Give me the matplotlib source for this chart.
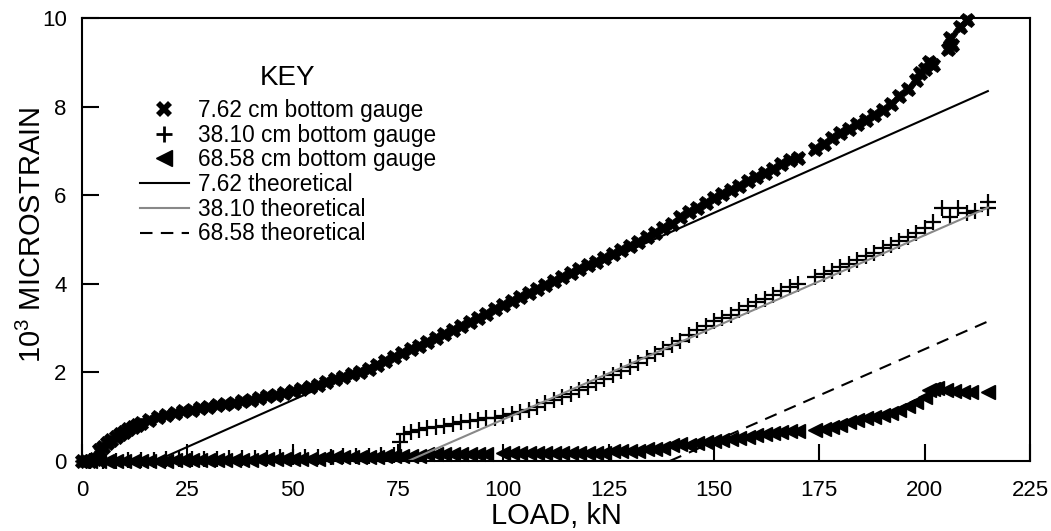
import matplotlib
matplotlib.use('Agg')
import matplotlib.pyplot as plt
from matplotlib.lines import Line2D

plt.rcParams['font.family'] = ['Liberation Sans', 'DejaVu Sans']
plt.rcParams['mathtext.fontset'] = 'custom'
plt.rcParams['mathtext.rm'] = 'Liberation Sans'

# 7.62 cm bottom gauge (X markers)
g1_x = [0, 1, 2, 3, 4, 5, 6, 7, 8, 9, 10, 11, 12, 13, 14,
        16, 18, 20, 22, 24, 26, 28, 30, 32, 34, 36, 38, 40, 42, 44, 46, 48, 50,
        52, 54, 56, 58, 60,
        62, 64, 66, 68, 70, 72, 74, 76, 78, 80, 82, 84, 86, 88, 90, 92, 94, 96,
        98, 100, 102, 104, 106, 108, 110, 112, 114, 116, 118, 120, 122, 124, 126,
        128, 130, 132, 134, 136, 138, 140, 142, 144, 146, 148, 150, 152, 154, 156,
        158, 160, 162, 164, 166, 168, 170,
        174, 176, 178, 180, 182, 184, 186, 188, 190, 192, 194, 196, 198,
        199, 200, 201, 202, 205.5, 206, 206.5, 208.5, 210]
g1_y = [0, 0, 0, 0.05, 0.25, 0.32, 0.4, 0.47, 0.54, 0.6, 0.66, 0.72, 0.77, 0.82, 0.86,
        0.93, 0.99, 1.04, 1.08, 1.12, 1.16, 1.2, 1.23, 1.26, 1.29, 1.32, 1.35, 1.38,
        1.42, 1.46, 1.5, 1.54, 1.58, 1.62, 1.67, 1.72, 1.78, 1.84,
        1.9, 1.96, 2.02, 2.08, 2.16, 2.25, 2.34, 2.43, 2.52, 2.6, 2.68, 2.77, 2.86,
        2.96, 3.05, 3.14, 3.23, 3.32, 3.42, 3.52, 3.61, 3.7, 3.79, 3.88, 3.97,
        4.06, 4.15, 4.24, 4.33, 4.42, 4.5, 4.59, 4.67, 4.76, 4.85, 4.95, 5.05,
        5.15, 5.25, 5.35, 5.5, 5.62, 5.72, 5.82, 5.93, 6.03, 6.12, 6.2, 6.33, 6.42,
        6.5, 6.6, 6.7, 6.8, 6.85,
        7.05, 7.15, 7.3, 7.4, 7.5, 7.6, 7.7, 7.8, 7.92, 8.05, 8.25, 8.4, 8.6,
        8.75, 8.85, 9.0, 8.95, 9.3, 9.55, 9.4, 9.8, 9.95]

# 38.10 cm bottom gauge (+ markers)
g2_x = [2, 5, 8, 11, 14, 17, 20, 23, 26, 29, 32, 35, 38, 41, 44, 47, 50, 53, 56,
        59, 62, 65, 68, 71, 74,
        75.5, 76.5,
        78, 80, 82, 84, 86, 88, 90, 92, 94, 96, 98, 100, 102, 104, 106, 108, 110,
        112, 114, 116, 118, 120, 122, 124, 126, 128, 130, 132, 134, 136, 138, 140,
        142, 144, 146, 148, 150, 152, 154, 156, 158, 160, 162, 164, 166, 168, 170,
        174, 176, 178, 180, 182, 184, 186, 188, 190, 192, 194, 196, 198, 200, 202,
        204, 206, 208, 210, 212,
        215, 215]
g2_y = [0, 0, 0.01, 0.02, 0.03, 0.03, 0.04, 0.04, 0.05, 0.05, 0.05, 0.06, 0.06,
        0.07, 0.07, 0.08, 0.08, 0.09, 0.1, 0.1, 0.11, 0.12, 0.12, 0.13, 0.14,
        0.43, 0.62,
        0.66, 0.7, 0.74, 0.76, 0.8, 0.84, 0.87, 0.9, 0.93, 0.96, 0.98, 1.02, 1.06,
        1.1, 1.15, 1.22, 1.3, 1.37, 1.44, 1.52, 1.6, 1.68, 1.76, 1.85, 1.94, 2.03,
        2.12, 2.22, 2.32, 2.42, 2.52, 2.62, 2.72, 2.85, 2.95, 3.05, 3.15, 3.22,
        3.3, 3.4, 3.5, 3.58, 3.66, 3.75, 3.84, 3.92, 4.0,
        4.15, 4.22, 4.3, 4.38, 4.45, 4.53, 4.62, 4.7, 4.8, 4.88, 4.96, 5.05, 5.15,
        5.25, 5.4, 5.7, 5.5, 5.72, 5.6, 5.65,
        5.85, 5.7]

# 68.58 cm bottom gauge (left triangles)
g3_x = [0, 2, 4, 6, 8, 10, 12, 14, 16, 18, 20,
        22, 24, 26, 28, 30, 32, 34, 36, 38, 40,
        42, 44, 46, 48, 50, 52, 54, 56,
        58, 60, 62, 64, 66, 68, 70,
        72, 74, 76, 78, 80,
        82, 84, 86, 88, 90, 92, 94, 96,
        100, 102, 104, 106, 108, 110, 112, 114, 116, 118, 120, 122, 124,
        126, 128, 130, 132,
        134, 136, 138, 140, 142, 144, 146, 148, 150, 152, 154, 156, 158, 160,
        162, 164, 166, 168, 170,
        174, 176, 178, 180, 182, 184, 186, 188, 190, 192, 194, 196, 198, 200,
        201, 202, 203, 205, 207, 209, 211, 215]
g3_y = [0, 0, 0, 0, 0, 0, 0, 0, 0, 0, 0,
        0.02, 0.02, 0.02, 0.02, 0.02, 0.02, 0.02, 0.02, 0.02, 0.02,
        0.04, 0.04, 0.04, 0.04, 0.04, 0.04, 0.04, 0.04,
        0.08, 0.08, 0.08, 0.08, 0.08, 0.08, 0.08,
        0.12, 0.12, 0.12, 0.12, 0.12,
        0.15, 0.15, 0.15, 0.15, 0.15, 0.15, 0.15, 0.15,
        0.18, 0.18, 0.18, 0.18, 0.18, 0.18, 0.18, 0.18, 0.18, 0.18, 0.18, 0.18, 0.18,
        0.22, 0.22, 0.22, 0.22,
        0.28, 0.28, 0.3, 0.35, 0.38, 0.36, 0.4, 0.42, 0.45, 0.47, 0.5, 0.52, 0.55, 0.58,
        0.6, 0.63, 0.66, 0.68, 0.68,
        0.7, 0.72, 0.77, 0.82, 0.87, 0.92, 0.97, 1.0, 1.04, 1.08, 1.15, 1.25, 1.33, 1.45,
        1.6, 1.62, 1.65, 1.6, 1.58, 1.56, 1.56, 1.56]

# theoretical lines (end points)
t1_x = [17.5, 215]
t1_y = [0, 8.35]
t2_x = [77.4, 215]
t2_y = [0, 5.72]
t3_x = [139.5, 215]
t3_y = [0, 3.15]

labels = ['7.62 cm bottom gauge', '38.10 cm bottom gauge', '68.58 cm bottom gauge',
          '7.62 theoretical', '38.10 theoretical', '68.58 theoretical']

fig = plt.figure(figsize=(10.51, 5.31), dpi=100)
ax = fig.add_axes([82 / 1051, 70 / 531, 948 / 1051, 443 / 531])

ax.plot(g3_x, g3_y, linestyle='None', marker='<', markersize=10, color='black',
        clip_on=False)
ax.plot(g2_x, g2_y, linestyle='None', marker='+', markersize=11, mew=1.6,
        color='black', clip_on=False)
ax.plot(g1_x, g1_y, linestyle='None', marker='X', markersize=10.5, color='black',
        mew=0.6, clip_on=False)

ax.plot(t1_x, t1_y, color='black', lw=1.5)
ax.plot(t2_x, t2_y, color='#888888', lw=1.5)
ax.plot(t3_x, t3_y, color='black', lw=1.5, dashes=(6, 4))

ax.set_xlim(0, 225)
ax.set_ylim(0, 10)
ax.set_xticks(range(0, 226, 25))
ax.set_yticks(range(0, 11, 2))
ax.tick_params(direction='in', length=12, width=1.5, labelsize=16,
               top=False, right=False)
ax.tick_params(axis='x', pad=14)
ax.tick_params(axis='y', pad=11)
for s in ax.spines.values():
    s.set_linewidth(1.5)

ax.set_xlabel('LOAD, kN', fontsize=21)
ax.set_ylabel(r'$\mathregular{10^3}$ MICROSTRAIN', fontsize=21)
ax.xaxis.set_label_coords(0.5, -0.092)
ax.yaxis.set_label_coords(-0.037, 0.51)

fig.text(288 / 1051, 1 - 78 / 531, 'KEY', fontsize=20, ha='center', va='center')

handles = [
    Line2D([], [], linestyle='None', marker='X', markersize=11, mew=0, color='black'),
    Line2D([], [], linestyle='None', marker='+', markersize=12, mew=2, color='black'),
    Line2D([], [], linestyle='None', marker='<', markersize=11, color='black'),
    Line2D([], [], color='black', lw=1.5),
    Line2D([], [], color='#888888', lw=1.5),
    Line2D([], [], color='black', lw=1.5, dashes=(6, 4)),
]
leg = ax.legend(handles, labels, loc='upper left',
                bbox_to_anchor=(140 / 1051, 1 - 99 / 531),
                bbox_transform=fig.transFigure, frameon=False, fontsize=16.3,
                handlelength=2.15, handletextpad=0.4,
                labelspacing=0.075, borderpad=0, borderaxespad=0)

fig.savefig('out.png', dpi=100)
